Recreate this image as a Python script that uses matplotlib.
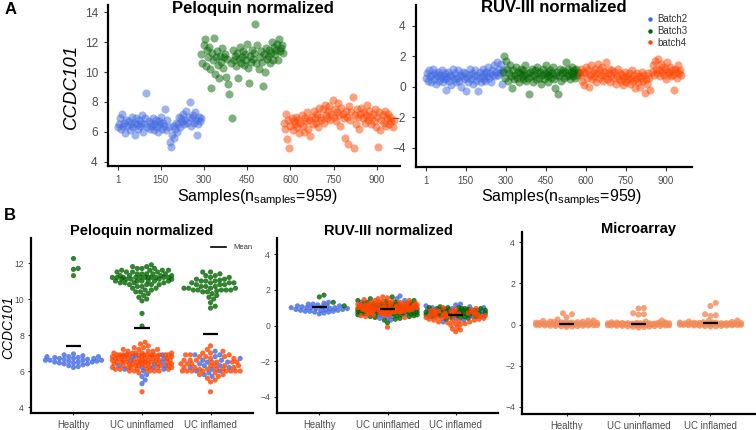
import numpy as np
import matplotlib
matplotlib.use('Agg')
import matplotlib.pyplot as plt
from matplotlib.lines import Line2D

plt.rcParams['font.family'] = ['Liberation Sans', 'DejaVu Sans']
plt.rcParams['mathtext.default'] = 'regular'

BATCHES = ['Batch2', 'Batch3', 'batch4']
COLORS = {'Batch2': '#4169E1', 'Batch3': '#006400', 'batch4': '#FF4500',
          'micro': '#F28A58'}

# sample index ranges of each batch (n = 959)
BATCH_RANGES = [(1, 290), (291, 576), (577, 959)]
SAMPLE_TICKS = [1, 150, 300, 450, 600, 750, 900]

# ---- panel A: values along sample order ----
PEL_B2 = [6.3, 6.5, 6.9, 6.2, 7.2, 6.4, 6.6, 5.9, 6.8, 6.4,
          6.7, 6.1, 6.5, 7.0, 6.3, 6.6, 5.8, 6.9, 6.5, 6.2,
          6.8, 6.4, 6.6, 7.1, 6.0, 6.5, 6.9, 8.6, 6.3, 6.7,
          6.2, 6.6, 6.4, 6.9, 6.1, 6.5, 6.8, 6.3, 6.0, 6.7,
          6.5, 7.0, 6.2, 6.6, 6.4, 7.5, 6.1, 6.8, 6.3, 5.3,
          5.0, 5.8, 6.4, 5.6, 6.2, 6.6, 6.0, 6.5, 7.0, 6.3,
          6.9, 6.7, 7.2, 6.5, 6.8, 7.4, 6.6, 7.0, 8.0, 6.4,
          6.9, 7.1, 6.6, 7.3, 6.8, 5.8, 6.5, 7.0, 6.7, 6.9]
PEL_B3 = [11.2, 10.6, 11.8, 12.2, 10.4, 11.5, 11.0, 11.7, 10.2, 8.9,
          11.3, 10.8, 12.3, 9.9, 11.0, 11.4, 10.5, 9.6, 11.1, 10.7,
          11.6, 10.3, 11.0, 11.2, 9.7, 10.9, 9.2, 8.5, 10.6, 6.9,
          11.5, 10.8, 11.1, 10.4, 11.3, 9.6, 10.9, 11.7, 10.6, 11.0,
          11.4, 10.5, 11.2, 10.8, 11.9, 10.3, 9.3, 11.1, 10.7, 11.5,
          10.9, 11.3, 13.2, 10.6, 11.8, 10.2, 11.0, 11.4, 10.7, 9.1,
          11.2, 10.0, 11.6, 10.9, 11.1, 11.5, 10.6, 11.3, 12.0, 10.8,
          11.7, 11.2, 11.5, 11.9, 10.8, 12.2, 11.4, 11.6, 11.8, 11.3]
PEL_B4 = [6.6, 6.2, 7.2, 5.5, 6.8, 4.9, 6.4, 6.9, 6.1, 6.7,
          6.5, 7.0, 6.3, 6.8, 5.9, 6.6, 7.1, 6.4, 6.0, 6.9,
          6.7, 7.3, 6.2, 6.8, 5.7, 7.0, 6.5, 7.4, 6.9, 6.6,
          7.2, 6.3, 7.6, 7.0, 6.8, 7.5, 6.6, 7.8, 7.1, 6.9,
          7.4, 7.7, 6.8, 7.2, 8.1, 7.0, 7.5, 6.7, 7.3, 7.9,
          7.1, 6.4, 7.6, 7.2, 6.9, 5.6, 7.4, 7.0, 5.2, 7.7,
          6.8, 7.3, 8.3, 4.9, 7.1, 6.5, 7.5, 7.0, 6.2, 7.2,
          7.6, 6.9, 7.3, 6.6, 7.1, 7.8, 6.8, 7.4, 7.0, 6.5,
          7.2, 6.7, 7.5, 6.3, 7.0, 5.0, 7.3, 6.1, 6.8, 7.1,
          6.6, 7.4, 6.4, 6.9, 7.2, 6.5, 7.0, 6.7, 6.3, 6.8]

RUV_B2 = [0.6, 0.9, 0.4, 1.1, 0.7, 0.3, 0.8, 1.2, 0.5, 0.9,
          0.2, 0.7, 1.0, 0.4, 0.8, 0.6, 1.1, 0.3, 0.7, 0.5,
          0.9, -0.2, 0.6, 1.0, 0.4, 0.8, 0.1, 0.7, 1.2, 0.5,
          0.9, 0.3, 0.6, 1.1, 0.4, 0.8, 0.0, 0.7, 1.0, 0.5,
          0.9, -0.3, 0.6, 0.3, 0.8, 1.2, 0.5, 0.9, 0.2, 0.7,
          1.1, 0.4, 0.8, -0.3, 0.6, 1.0, 0.3, 0.7, 1.2, 0.5,
          0.9, 0.4, 1.0, 0.7, 1.3, 0.6, 0.9, 0.3, 1.1, 0.8,
          1.4, 0.7, 1.0, 1.6, 0.8, 1.2, 0.9, 1.5, 0.2, 1.1]
RUV_B3 = [1.0, 2.0, 0.6, 1.7, 1.2, 0.4, 0.9, 1.4, 0.7, -0.1,
          1.1, 0.5, 0.8, 1.3, 0.6, 1.0, 0.3, 0.9, 1.2, 0.7,
          0.5, 1.1, 0.8, 1.4, 0.4, 0.9, 0.6, -0.5, 1.0, 0.7,
          1.2, 0.3, 0.8, 1.1, 0.5, 1.3, 0.9, 0.6, 1.0, 0.2,
          0.8, 1.2, 0.5, 0.9, 1.4, 0.7, 1.0, 0.3, 0.8, 1.1,
          0.6, 0.9, 1.3, 0.5, -0.1, 0.8, 1.0, -0.5, 0.7, 1.2,
          0.4, 0.9, 1.1, 0.6, 1.0, 1.6, 0.7, 1.2, 0.8, 0.5,
          1.0, 1.3, 0.7, 0.9, 1.1, 0.6, 1.2, 0.8, 1.0, 0.9]
RUV_B4 = [0.8, 1.2, 0.4, 1.0, 0.1, 0.9, 1.3, 0.6, 1.1, 0.0,
          0.8, 1.4, 0.5, 1.0, 0.7, 1.2, 0.3, 0.9, 1.5, 0.6,
          1.1, 0.8, 1.3, 0.4, 1.0, 0.7, 1.6, 0.5, 0.9, 1.2,
          0.3, 0.8, 1.1, 0.6, 1.0, 0.2, 0.7, 1.2, 0.5, 0.9,
          0.4, 0.8, 0.1, 0.6, 1.0, 0.3, 0.7, 0.5, 0.9, 0.2,
          0.6, 1.1, 0.4, 0.8, -0.1, 0.5, 0.9, 0.3, 0.7, 0.0,
          0.6, 1.0, 0.4, 0.8, -0.4, 0.5, 0.2, 0.9, 0.6, -0.2,
          1.0, 1.4, 0.8, 1.7, 1.2, 0.9, 1.8, 1.1, 0.7, 1.5,
          1.0, 1.3, 0.8, 1.2, 0.5, 1.6, 1.0, 0.9, 1.3, 0.7,
          1.1, 0.8, -0.2, 1.2, 1.0, 0.6, 1.4, 0.9, 1.1, 0.8]

# ---- panel B: values per tissue group ----
GROUPS = ['Healthy', 'UC uninflamed', 'UC inflamed']

PEL_HEALTHY_B2 = [6.55, 6.7, 6.45, 6.8, 6.35, 6.6, 6.9, 6.5, 6.75, 6.25,
                  6.65, 6.85, 6.4, 6.6, 6.7, 6.5, 6.3, 6.8, 6.55, 6.65,
                  6.45, 6.75, 6.6, 6.95, 6.2, 6.5, 6.7, 6.6, 6.4, 6.8]
PEL_HEALTHY_B3 = [12.25, 11.7, 11.65, 11.3]
PEL_UNINF_B2 = [6.8, 6.2, 6.5, 6.1, 6.9, 6.3, 5.8, 6.6, 6.2, 5.5,
                6.7, 6.0, 5.3, 6.4, 6.85, 5.7, 6.1, 6.3]
PEL_UNINF_B3 = [11.2, 11.0, 11.4, 10.8, 11.6, 11.2, 10.6, 11.1, 11.8, 10.9,
                11.3, 11.5, 10.4, 11.2, 11.0, 11.7, 10.7, 11.2, 11.4, 10.2,
                11.1, 11.9, 10.8, 11.2, 11.5, 10.5, 11.0, 11.3, 10.0, 11.6,
                11.2, 10.9, 11.4, 10.3, 11.7, 11.1, 11.2, 10.6, 11.8, 11.0,
                9.9, 11.3, 10.8, 11.5, 11.2, 10.1, 11.6, 11.0, 10.7, 11.4,
                11.2, 9.2, 11.1, 10.9, 11.5, 11.3, 8.5, 10.5, 11.2, 11.7,
                10.8, 11.0, 11.4, 10.4, 11.2, 11.6, 11.1, 10.9]
PEL_UNINF_B4 = [6.9, 6.5, 7.1, 6.2, 6.7, 6.0, 6.8, 7.3, 6.4, 6.9,
                6.1, 6.6, 7.6, 6.3, 6.9, 6.5, 7.0, 5.9, 6.7, 6.2,
                7.2, 6.4, 6.9, 6.0, 6.6, 6.8, 7.4, 6.3, 6.5, 6.9,
                6.1, 7.0, 6.7, 6.2, 6.4, 6.9, 6.6, 7.1, 6.0, 6.5,
                6.8, 6.3, 7.2, 6.9, 6.1, 6.6, 6.4, 7.0, 6.7, 4.85,
                6.2, 6.9, 6.5, 6.8, 6.0, 7.3, 6.4, 6.6, 6.9, 6.1,
                6.7, 7.0, 6.3, 6.5, 6.9, 6.2, 6.8, 7.5, 6.4, 6.6,
                6.0, 6.9, 6.7, 7.1, 6.3, 6.5, 6.8, 6.1, 6.9, 6.4,
                7.2, 6.6, 6.2, 6.9, 6.5, 6.7, 7.0, 6.3, 6.8, 6.6]
PEL_INF_B2 = [6.9, 6.3, 6.0, 6.6, 5.8, 7.1, 6.2, 6.5, 5.9, 6.7,
              6.1, 6.4, 6.8, 5.7, 6.3, 6.6, 6.0, 6.9, 6.2, 6.5]
PEL_INF_B3 = [11.5, 10.5, 11.0, 10.8, 11.3, 10.4, 10.7, 11.1, 10.0, 10.6,
              11.4, 9.8, 10.9, 10.5, 11.0, 9.5, 10.7, 11.2, 10.3, 10.6,
              11.5, 10.9, 10.5, 9.6, 10.8, 11.1, 10.4, 10.6, 11.3, 10.2,
              10.9, 10.5, 11.0, 10.7, 10.1, 10.6, 11.2, 10.8, 10.5, 10.9,
              11.05, 10.45]
PEL_INF_B4 = [6.0, 6.5, 7.0, 5.8, 6.3, 6.8, 6.1, 7.4, 6.6, 5.6,
              6.2, 6.9, 6.0, 5.4, 6.4, 7.1, 6.7, 6.0, 5.9, 6.5,
              4.85, 6.3, 6.8, 6.1, 6.6, 7.2, 6.0, 5.7, 6.4, 6.9,
              6.2, 6.0, 6.5, 7.0, 5.8, 6.3, 6.7, 6.1, 6.0, 6.6,
              5.5, 6.4, 6.8, 6.2, 6.0, 6.5, 6.9, 6.1, 6.3, 6.0]
PEL_MEANS = [7.4, 8.4, 8.05]

RUV_HEALTHY_B2 = [1.0, 0.85, 1.1, 0.75, 1.2, 0.9, 1.05, 0.8, 1.3, 0.95,
                  0.7, 1.15, 0.85, 1.0, 0.9, 1.25, 0.8, 1.1, 0.95, 0.65,
                  1.05, 0.9, 1.2, 0.85, 1.0, 0.75, 1.1, 0.95, 0.8, 1.0]
RUV_HEALTHY_B3 = [1.7, 1.6, 1.3, 1.1]
RUV_UNINF_B2 = [1.65, 0.5, 1.2, 0.3, 0.9, 1.5, 0.6, 1.0, 0.4, 1.3,
                0.7, 1.1, 0.55, 0.85, 1.4, 0.45, 0.95, 0.65]
RUV_UNINF_B3 = [0.9, 1.2, 0.6, 1.0, 0.8, 1.4, 0.5, 1.1, 0.7, 0.95,
                1.3, 0.4, 0.85, 1.05, 0.65, 1.2, 0.9, 1.5, 0.55, 1.0,
                0.75, 1.15, 0.3, 0.9, 1.25, 0.6, 1.0, 0.8, 1.35, 0.7,
                0.95, 0.45, 1.1, 0.85, 1.6, 0.65, 1.0, 0.9, 0.15, 1.2,
                0.75, 1.05, 0.5, 0.9, 1.3, 0.8, 1.0, 0.6, 1.15, 0.95,
                0.7, 1.4, 0.85, 1.0, 0.35, 0.9, 1.1, 0.75, 1.25, 0.65,
                1.0, 0.9, 0.55, 1.05, 0.8, 1.2, 0.95, 0.7]
RUV_UNINF_B4 = [1.0, 0.8, 1.2, 0.9, 1.4, 0.7, 1.1, 0.95, 1.3, 0.6,
                1.05, 0.85, 1.5, 0.75, 1.0, 1.2, 0.9, 0.5, 1.1, 0.8,
                1.35, 1.0, 0.65, 1.15, 0.9, 1.25, 0.85, 1.05, 0.7, 1.55,
                0.95, 1.1, 0.8, 1.3, 1.0, 0.6, 1.2, 0.9, 1.45, 0.75,
                1.0, 1.15, 0.85, 1.05, -0.1, 0.95, 1.25, 0.7, 1.1, 0.9,
                1.4, 0.8, 1.0, 0.55, 1.2, 0.95, 1.05, 0.85, 1.3, 0.75,
                1.0, 0.9, 1.15, 0.65, 1.1, 0.8, 1.35, 0.95, 1.0, 0.45,
                1.2, 0.9, 1.05, 0.85, 1.25, 0.7, 1.0, 1.6, 0.95, 1.1,
                0.8, 1.3, 0.9, 1.0, 0.6, 1.15, 0.85, 1.05, 0.75, 1.2]
RUV_INF_B2 = [1.2, 0.8, 1.1, 0.5, 0.9, 1.0, 0.3, 0.7, 1.15, 0.6,
              0.95, 0.4, 0.85, 1.05, 0.2, 0.75, 0.55, 0.9, 0.65, 1.0]
RUV_INF_B3 = [0.8, 0.5, 0.95, 0.6, 0.75, 1.0, 0.45, 0.85, 0.7, 0.55,
              0.9, 0.65, 1.05, 0.4, 0.8, 0.7, 0.95, 0.5, 0.85, 0.6,
              0.75, 1.0, 0.45, 0.9, 0.65, 0.8, 0.55, 0.95, 0.7, 0.85,
              0.35, 0.75, 0.9, 0.6, 1.0, 0.5, 0.8, 0.7, 0.85, 0.65,
              0.95, 0.75]
RUV_INF_B4 = [0.6, 0.3, 0.8, 0.1, 0.5, 0.9, 0.2, 0.7, 0.4, 0.0,
              0.65, -0.2, 0.55, 0.85, 0.35, 0.75, 0.15, 0.6, 1.0, 0.45,
              -0.35, 0.7, 0.25, 0.5, 0.9, 0.05, 0.6, 0.8, 0.3, 0.55,
              -0.1, 0.7, 0.4, 0.95, 0.2, 0.65, 0.5, 0.85, 0.1, 0.6,
              0.75, 0.35, 0.55, -0.25, 0.8, 0.45, 0.7, 0.25, 0.6, 0.5]
RUV_MEANS = [1.02, 0.93, 0.6]

MICRO_HEALTHY = [0.0, 0.05, -0.05, 0.1, -0.08, 0.02, 0.15, -0.03, 0.08, 0.0,
                 -0.1, 0.04, 0.12, -0.06, 0.01, 0.07, -0.02, 0.2, 0.03, -0.07,
                 0.09, 0.0, -0.04, 0.11, 0.05, -0.09, 0.02, 0.14, -0.01, 0.06,
                 0.0, -0.05, 0.1, 0.03, -0.12, 0.08, 0.01, 0.13, -0.03, 0.04,
                 0.0, 0.06, -0.06, 0.02, 0.09, -0.02, 0.05, 0.18, 0.55, 0.5,
                 0.35, 0.2, 0.25]
MICRO_UNINF = [0.0, -0.04, 0.06, -0.1, 0.03, 0.1, -0.07, 0.01, 0.08, -0.02,
               0.0, 0.05, -0.12, 0.04, -0.05, 0.09, 0.02, -0.08, 0.07, 0.0,
               -0.03, 0.11, 0.01, -0.06, 0.04, 0.0, -0.15, 0.06, -0.01, 0.03,
               0.08, -0.09, 0.02, 0.0, -0.04, 0.05, 0.1, -0.02, 0.01, -0.07,
               0.04, 0.0, 0.07, -0.05, 0.02, -0.11, 0.06, 0.03, -0.03, 0.0,
               0.8, 0.78, 0.55, 0.5, 0.48, 0.2, 0.15]
MICRO_INF = [0.0, 0.05, -0.03, 0.1, 0.02, -0.08, 0.07, 0.0, 0.12, -0.05,
             0.04, 0.01, -0.1, 0.08, 0.03, -0.02, 0.15, 0.0, 0.06, -0.06,
             0.02, 0.09, -0.04, 0.05, 0.0, 0.11, -0.01, 0.04, -0.09, 0.07,
             0.01, 0.0, 0.13, -0.03, 0.06, 0.02, -0.07, 0.08, 0.0, 0.03,
             -0.02, 0.1, 0.05, -0.05, 0.01, 0.18, 0.04, 0.0, 1.05, 0.9,
             0.5, 0.45, 0.42, 0.2]
MICRO_MEANS = [0.03, 0.03, 0.06]

W, H = 756, 430
fig = plt.figure(figsize=(W / 100, H / 100), dpi=100)


def box(l, t, r, b):
    return [l / W, 1 - b / H, (r - l) / W, (b - t) / H]


def fx(px):
    return px / W


def fy(py):
    return 1 - py / H


def style(ax, xsize, ysize, xlen, ylen, xpad, ypad):
    for s in ['top', 'right']:
        ax.spines[s].set_visible(False)
    for s in ['left', 'bottom']:
        ax.spines[s].set_linewidth(1.6)
        ax.spines[s].set_color('black')
    ax.tick_params(axis='x', labelsize=xsize, length=xlen, width=0.8,
                   color='#333333', labelcolor='#4d4d4d', pad=xpad)
    ax.tick_params(axis='y', labelsize=ysize, length=ylen, width=0.8,
                   color='#333333', labelcolor='#4d4d4d', pad=ypad)


def swarm_offsets(ax, values, diam_px, max_half, overlap):
    # simple beeswarm: put each point (lowest first) at the nearest free
    # horizontal offset, working in pixels of the finished axes
    p0 = ax.transData.transform((0, 0))
    p1 = ax.transData.transform((1, 1))
    sx, sy = p1 - p0
    ys = np.asarray(values, dtype=float) * sy
    step = diam_px * 0.3
    n_steps = int(max_half * sx / step)
    cands = [0.0]
    for k in range(1, n_steps + 1):
        cands += [k * step, -k * step]
    dmin = diam_px * overlap
    px, py = [], []
    xs = np.zeros(len(ys))
    for i in np.argsort(ys, kind='stable'):
        best_c, best_gap, chosen = 0.0, -1.0, None
        arr_x, arr_y = np.array(px), np.array(py)
        for c in cands:
            gap = np.min(np.hypot(arr_x - c, arr_y - ys[i])) if px else np.inf
            if gap >= dmin:
                chosen = c
                break
            if gap > best_gap:
                best_gap, best_c = gap, c
        if chosen is None:
            chosen = best_c
        xs[i] = chosen / sx
        px.append(chosen)
        py.append(ys[i])
    return xs


# ---------------- panel A ----------------
xlab = 'Samples(n$_{samples}$=959)'
top_panels = [
    (box(108, 5, 400, 166), (-33.7, 981), (3.73, 14.47), [4, 6, 8, 10, 12, 14],
     [PEL_B2, PEL_B3, PEL_B4], 'Peloquin normalized', 253, 257),
    (box(416, 5, 692, 167), (-36.5, 999), (-5.28, 5.38), [-4, -2, 0, 2, 4],
     [RUV_B2, RUV_B3, RUV_B4], 'RUV-III normalized', 554, 561),
]
top_axes = []
for rect, xl, yl, yt, series, title, tx, lx in top_panels:
    ax = fig.add_axes(rect)
    for batch, (lo, hi), vals in zip(BATCHES, BATCH_RANGES, series):
        xs = np.linspace(lo, hi, len(vals))
        ax.scatter(xs, vals, s=34, color=COLORS[batch], alpha=0.5,
                   linewidths=0, zorder=2)
    ax.set_xlim(*xl)
    ax.set_ylim(*yl)
    ax.set_xticks(SAMPLE_TICKS)
    ax.set_yticks(yt)
    style(ax, 7, 8.6, 3, 3, 3.5, 4.3)
    fig.text(fx(tx), fy(8), title, ha='center', va='center',
             fontsize=12, fontweight='bold')
    fig.text(fx(lx), fy(198), xlab, ha='center', va='center', fontsize=11.5)
    top_axes.append(ax)

fig.text(fx(71), fy(86), 'CCDC101', rotation=90, ha='center', va='center',
         fontsize=13.4, style='italic')
fig.text(fx(11), fy(10), 'A', ha='center', va='center', fontsize=12,
         fontweight='bold')

handles = [Line2D([], [], marker='o', linestyle='none', markersize=3.2,
                  markerfacecolor=COLORS[b], markeredgewidth=0) for b in BATCHES]
top_axes[1].legend(handles, BATCHES, loc='upper left',
                   bbox_to_anchor=(fx(646), fy(14)),
                   bbox_transform=fig.transFigure, frameon=False, fontsize=7,
                   handlelength=0.8, handletextpad=0.4, labelspacing=0.2,
                   borderpad=0, borderaxespad=0, labelcolor='#333333')

# ---------------- panel B ----------------
pel_sets = [
    [('Batch2', PEL_HEALTHY_B2), ('Batch3', PEL_HEALTHY_B3)],
    [('Batch2', PEL_UNINF_B2), ('Batch3', PEL_UNINF_B3), ('batch4', PEL_UNINF_B4)],
    [('Batch2', PEL_INF_B2), ('Batch3', PEL_INF_B3), ('batch4', PEL_INF_B4)],
]
ruv_sets = [
    [('Batch2', RUV_HEALTHY_B2), ('Batch3', RUV_HEALTHY_B3)],
    [('Batch2', RUV_UNINF_B2), ('Batch3', RUV_UNINF_B3), ('batch4', RUV_UNINF_B4)],
    [('Batch2', RUV_INF_B2), ('Batch3', RUV_INF_B3), ('batch4', RUV_INF_B4)],
]
micro_sets = [[('micro', MICRO_HEALTHY)], [('micro', MICRO_UNINF)],
              [('micro', MICRO_INF)]]

bottom_panels = [
    (box(31, 238, 253, 413), (3.67, 13.39), [4, 6, 8, 10, 12], pel_sets,
     PEL_MEANS, 'Peloquin normalized', 142, 231, 5.2, 0.8, 0.8),
    (box(277, 238, 498, 413), (-4.9, 4.9), [-4, -2, 0, 2, 4], ruv_sets,
     RUV_MEANS, 'RUV-III normalized', 388, 231, 5.2, 0.8, 0.72),
    (box(522, 232, 755, 414), (-4.34, 4.49), [-4, -2, 0, 2, 4], micro_sets,
     MICRO_MEANS, 'Microarray', 639, 229, 6.0, 0.8, 0.85),
]
bottom_axes = []
for (rect, yl, yt, sets, means, title, tx, ty,
     diam, alpha, overlap) in bottom_panels:
    ax = fig.add_axes(rect)
    ax.set_xlim(-0.62, 2.62)
    ax.set_ylim(*yl)
    for pos, parts in enumerate(sets):
        vals = np.concatenate([p[1] for p in parts])
        cols = [COLORS[b] for b, v in parts for _ in v]
        offs = swarm_offsets(ax, vals, diam, 0.45, overlap)
        ax.scatter(pos + offs, vals, s=(diam / 1.389) ** 2, c=cols,
                   alpha=alpha, linewidths=0, zorder=2)
    pos = np.arange(len(GROUPS))
    ax.hlines(means, pos - 0.11, pos + 0.11, color='black', linewidth=1.6,
              zorder=5)
    ax.set_xticks(pos)
    ax.set_xticklabels(GROUPS)
    ax.set_yticks(yt)
    style(ax, 6.9, 6.2, 1.5, 2.5, 3.7, 2.5)
    fig.text(fx(tx), fy(ty), title, ha='center', va='center', fontsize=10.5,
             fontweight='bold')
    bottom_axes.append(ax)

fig.text(fx(8), fy(327), 'CCDC101', rotation=90, ha='center', va='center',
         fontsize=10, style='italic')
fig.text(fx(10), fy(215), 'B', ha='center', va='center', fontsize=12,
         fontweight='bold')

bottom_axes[0].legend([Line2D([], [], color='black', linewidth=1.2)], ['Mean'],
                      loc='upper left', bbox_to_anchor=(fx(211), fy(244)),
                      bbox_transform=fig.transFigure, frameon=False,
                      fontsize=5.5, handlelength=2.0, handletextpad=0.9,
                      borderpad=0, borderaxespad=0, labelcolor='#333333')

fig.savefig('out.png', dpi=100)
